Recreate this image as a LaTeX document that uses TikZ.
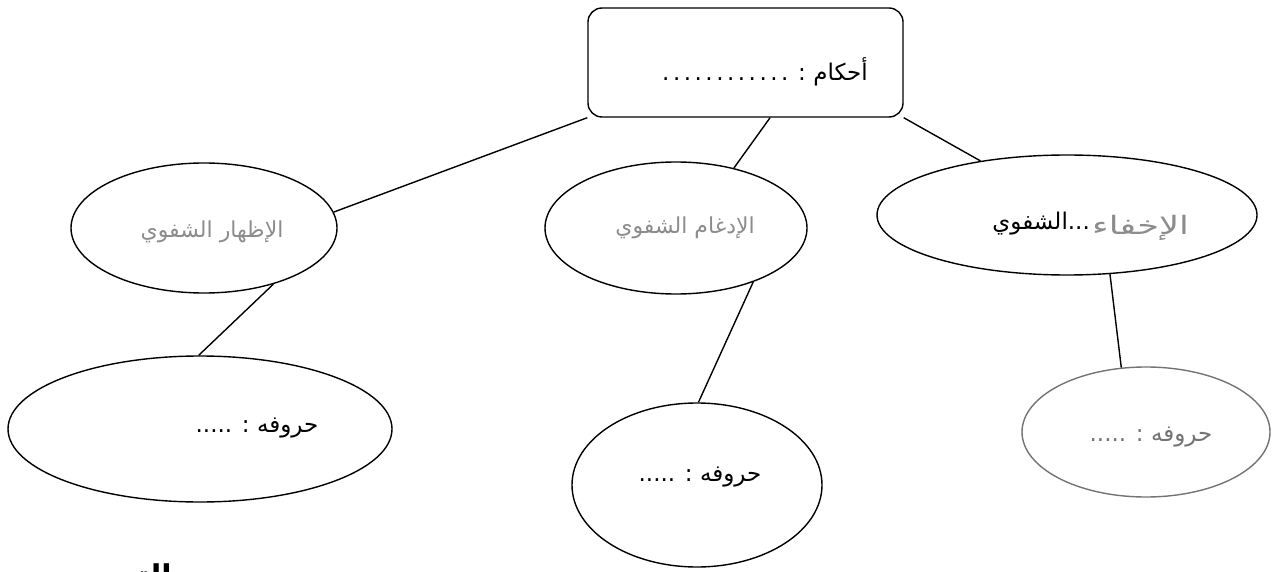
\documentclass[tikz,border=0pt]{standalone}
\usepackage{fontspec}
\newfontfamily\arabicfont[Script=Arabic]{DejaVu Sans}
\TeXXeTstate=1
\usetikzlibrary{shapes.geometric}
\definecolor{hand}{gray}{0.55}
\definecolor{faint}{gray}{0.45}
\newcommand{\sdot}{.\kern3.5pt}
\begin{document}
\begin{tikzpicture}[x=1pt,y=-1pt,
  oval/.style={ellipse, draw, line width=1.4pt, inner sep=0pt},
  link/.style={line width=1.4pt},
  lbl/.style={font=\arabicfont\fontsize{23}{26}\selectfont, inner sep=0pt},
  handlbl/.style={lbl, font=\arabicfont\fontsize{22}{26}\selectfont, text=hand},
]
\useasboundingbox (0,0) rectangle (1274,572);
\clip (0,0) rectangle (1274,572);
% shapes
\node[draw, rounded corners=14pt, line width=1.4pt, minimum width=315pt, minimum height=109pt, inner sep=0pt] (box) at (745.5,62.5) {};
\node[oval, minimum width=266pt, minimum height=130pt] (L) at (204,228) {};
\node[oval, minimum width=262pt, minimum height=132pt] (M) at (676,228) {};
\node[oval, minimum width=380pt, minimum height=120pt] (R) at (1067,215) {};
\node[oval, minimum width=384pt, minimum height=146pt] (BL) at (200,429) {};
\node[oval, minimum width=250pt, minimum height=164pt] (BM) at (697,485) {};
\node[oval, draw=faint, minimum width=248pt, minimum height=130pt] (BR) at (1146,432) {};
% texts
\node[lbl] (tbox) at (765,72) {\beginR أحكام : \sdot\sdot\sdot\sdot\sdot\sdot\sdot\sdot\sdot\sdot\sdot.\endR};
\node[handlbl] (tL) at (212,232) {\beginR الإظهار الشفوي\endR};
\node[handlbl] (tM) at (685,228) {\beginR الإدغام الشفوي\endR};
\node[lbl, anchor=east] (tR1) at (1090,224) {\beginR ...الشفوي\endR};
\node[handlbl, anchor=west] (tR2) at ([xshift=2pt,yshift=-4pt]tR1.east) {\scalebox{1.6}[1.15]{\beginR الإخفاء\endR}};
\node[lbl] (tBL) at (257,428) {\beginR حروفه : .....\endR};
\node[lbl] (tBM) at (700,477) {\beginR حروفه : .....\endR};
\node[lbl, text=faint] (tBR) at (1151,437) {\beginR حروفه : .....\endR};
\node[font=\arabicfont\bfseries\fontsize{30}{32}\selectfont, inner sep=0pt, anchor=base east] (ex) at (172,586) {\beginR التمرين\endR};
% connectors
\draw[link] (box.south west) -- (L.7);
\draw[link] (box.-66) -- (M.46);
\draw[link] (box.south east) -- (R.148);
\draw[link] (L.-39) -- (BL.91);
\draw[link] (M.-35) -- (BM.89);
\draw[link] (R.-54) -- (BR.111);
\end{tikzpicture}
\end{document}
